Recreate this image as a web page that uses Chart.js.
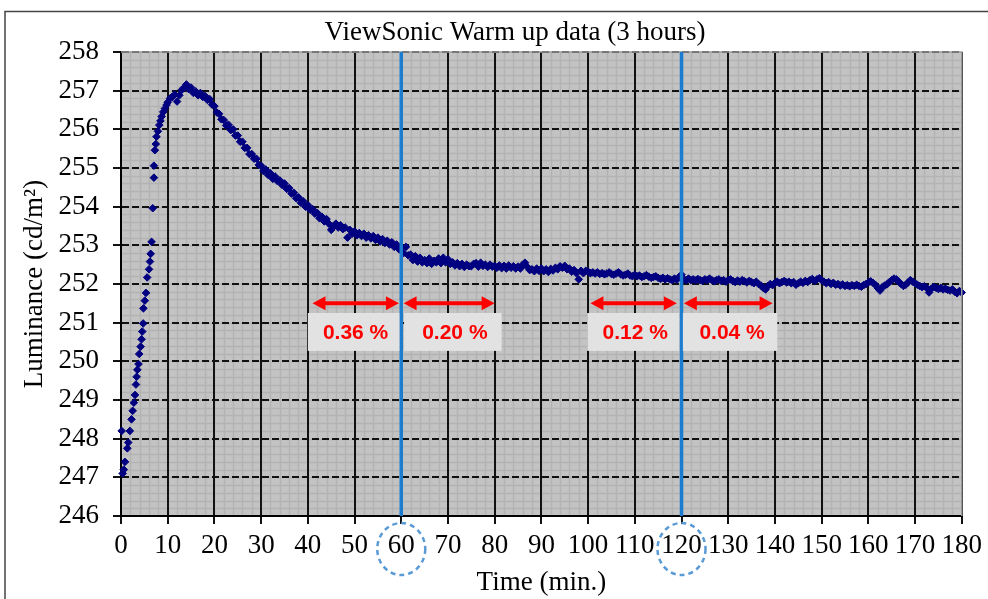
<!DOCTYPE html>
<html>
<head>
<meta charset="utf-8">
<title>ViewSonic Warm up data</title>
<script src="https://cdn.jsdelivr.net/npm/chart.js@4.4.1/dist/chart.umd.min.js"></script>
<style>
  html, body { margin: 0; padding: 0; background: #ffffff; }
  #wrap { width: 988px; height: 599px; position: relative; }
</style>
</head>
<body>
<div id="wrap"><canvas id="warmup"></canvas></div>
<script>
// --- data ---
const titleText = "ViewSonic Warm up data (3 hours)";
const xTitle = "Time (min.)";
const yTitle = "Luminance (cd/m²)";

// first minutes: the fast rise, sparse points
const riseTimes = [0.15, 0.36, 0.6, 0.85, 1.35, 1.55, 1.9, 2.25, 2.5, 2.75, 3.0, 3.2, 3.35, 3.5, 3.75, 3.9,
  4.2, 4.4, 4.55, 4.75, 4.8, 5.1, 5.35, 5.6, 6.0, 6.2, 6.35, 6.55, 6.8, 7.05, 7.05, 7.25, 7.45, 7.6, 7.9,
  8.2, 8.45, 8.7, 9.05, 9.4, 9.75];
const riseLum = [248.2, 247.1, 247.2, 247.4, 247.75, 247.9, 248.2, 248.5, 248.72, 248.93, 249.13, 249.4, 249.6, 249.78, 249.93, 250.19,
  250.38, 250.57, 250.77, 250.98, 251.37, 251.57, 251.77, 252.17, 252.38, 252.58, 252.78, 253.09, 253.96, 254.75, 255.06, 255.46, 255.62, 255.81, 255.95,
  256.11, 256.22, 256.33, 256.45, 256.54, 256.63];

// from 10 min on, one reading every half minute (each row = 5 min)
const steadyStart = 10;
const steadyStep = 0.5;
const steadyLum = [
  256.7, 256.8, 256.84, 256.9, 256.72, 256.88, 257.02, 257.08, 257.16, 257.04,    // 10
  257.08, 256.94, 256.98, 256.88, 256.94, 256.84, 256.86, 256.76, 256.78, 256.64, // 15
  256.6, 256.44, 256.4, 256.26, 256.24, 256.1, 256.12, 255.98, 256.0, 255.84,     // 20
  255.84, 255.68, 255.68, 255.52, 255.52, 255.36, 255.36, 255.24, 255.24, 255.08, // 25
  255.06, 254.92, 254.96, 254.82, 254.86, 254.72, 254.78, 254.66, 254.68, 254.56, // 30
  254.6, 254.46, 254.48, 254.34, 254.36, 254.22, 254.24, 254.1, 254.14, 254.0,    // 35
  254.04, 253.92, 253.94, 253.82, 253.84, 253.7, 253.74, 253.62, 253.68, 253.56,  // 40
  253.4, 253.5, 253.56, 253.46, 253.52, 253.42, 253.46, 253.2, 253.4, 253.3,      // 45
  253.36, 253.26, 253.32, 253.24, 253.3, 253.2, 253.26, 253.18, 253.24, 253.14,   // 50
  253.2, 253.1, 253.16, 253.06, 253.12, 253.02, 253.08, 252.96, 253.02, 252.9,    // 55
  252.95, 252.8, 252.96, 252.74, 252.76, 252.62, 252.72, 252.58, 252.68, 252.56,  // 60
  252.62, 252.54, 252.66, 252.52, 252.6, 252.56, 252.66, 252.54, 252.68, 252.56,  // 65
  252.64, 252.52, 252.56, 252.48, 252.54, 252.46, 252.52, 252.44, 252.5, 252.46,  // 70
  252.46, 252.52, 252.54, 252.45, 252.55, 252.47, 252.5, 252.44, 252.5, 252.45,   // 75
  252.47, 252.42, 252.48, 252.41, 252.47, 252.4, 252.48, 252.42, 252.46, 252.4,   // 80
  252.45, 252.4, 252.5, 252.55, 252.44, 252.36, 252.38, 252.33, 252.4, 252.34,    // 85
  252.4, 252.33, 252.38, 252.31, 252.39, 252.35, 252.42, 252.38, 252.46, 252.42,  // 90
  252.47, 252.38, 252.4, 252.32, 252.36, 252.28, 252.12, 252.34, 252.28, 252.34,  // 95
  252.32, 252.28, 252.3, 252.27, 252.3, 252.26, 252.28, 252.25, 252.27, 252.3,    // 100
  252.26, 252.24, 252.27, 252.3, 252.25, 252.22, 252.24, 252.27, 252.22, 252.2,   // 105
  252.24, 252.2, 252.22, 252.18, 252.2, 252.23, 252.19, 252.16, 252.18, 252.2,    // 110
  252.16, 252.13, 252.16, 252.12, 252.15, 252.12, 252.1, 252.14, 252.11, 252.18,  // 115
  252.24, 252.12, 252.1, 252.14, 252.1, 252.12, 252.09, 252.13, 252.1, 252.08,    // 120
  252.12, 252.1, 252.14, 252.1, 252.07, 252.1, 252.12, 252.08, 252.1, 252.06,     // 125
  252.1, 252.12, 252.08, 252.05, 252.09, 252.06, 252.1, 252.07, 252.04, 252.08,   // 130
  252.05, 252.02, 252.06, 252.0, 251.96, 251.9, 251.86, 251.95, 252.0, 251.97,    // 135
  252.03, 252.06, 252.02, 252.05, 252.08, 252.04, 252.06, 252.02, 252.05, 251.98, // 140
  252.02, 252.06, 252.03, 252.08, 252.05, 252.1, 252.13, 252.08, 252.12, 252.15,  // 145
  252.1, 252.06, 252.02, 252.05, 252.0, 252.03, 251.98, 252.0, 251.96, 251.99,    // 150
  251.95, 251.97, 251.94, 251.97, 251.95, 251.98, 251.95, 251.93, 251.97, 252.0,  // 155
  252.04, 252.07, 252.03, 251.98, 251.9, 251.83, 251.92, 251.96, 251.99, 252.05,  // 160
  252.1, 252.14, 252.12, 252.06, 252.0, 251.95, 251.98, 252.04, 252.1, 252.06,    // 165
  252.02, 251.98, 251.95, 251.92, 251.94, 251.9, 251.78, 251.88, 251.92, 251.9,   // 170
  251.87, 251.9, 251.86, 251.88, 251.85, 251.83, 251.86, 251.8, 251.76, 251.82,   // 175
  251.78                                                                          // 180
];

// annotations
const markerTimes = [60, 120];
const changeLabels = ["0.36 %", "0.20 %", "0.12 %", "0.04 %"];
const arrowSpans = [[41, 59.5], [60.5, 80], [100.5, 119], [120.5, 139.5]];
const boxSpans = [[40, 59.6], [60.6, 81.5], [99.8, 119.5], [120.3, 140.5]];
const arrowLevel = 251.5;
const boxTop = 251.25, boxBottom = 250.27;

const points = riseTimes.map((t, i) => ({ x: t, y: riseLum[i] }));
steadyLum.forEach((v, i) => points.push({ x: steadyStart + i * steadyStep, y: v }));

const serif = '"Liberation Serif", "Times New Roman", serif';

const decor = {
  id: 'decor',
  beforeDraw(chart) {
    const { ctx, chartArea: a, scales: { x, y } } = chart;
    ctx.save();
    // outer frame
    ctx.strokeStyle = '#444';
    ctx.lineWidth = 1.5;
    ctx.beginPath();
    ctx.moveTo(5, 599); ctx.lineTo(5, 11.5); ctx.lineTo(988, 11.5);
    ctx.stroke();
    // title
    ctx.fillStyle = '#000';
    ctx.font = '27px ' + serif;
    ctx.textAlign = 'center';
    ctx.textBaseline = 'middle';
    ctx.fillText(titleText, 515, 33);
    // plot background + minor grid
    ctx.fillStyle = '#c3c3c3';
    ctx.fillRect(a.left, a.top, a.width, a.height);
    ctx.strokeStyle = '#b3b3b3';
    ctx.lineWidth = 1.5;
    ctx.beginPath();
    for (let t = 2; t < 180; t += 2) {
      const px = Math.round(x.getPixelForValue(t)) + 0.5;
      ctx.moveTo(px, a.top); ctx.lineTo(px, a.bottom);
    }
    for (let k = 1; k < 60; k++) {
      const py = Math.round(y.getPixelForValue(246 + k * 0.2)) + 0.5;
      ctx.moveTo(a.left, py); ctx.lineTo(a.right, py);
    }
    ctx.stroke();
    ctx.restore();
  },
  afterDatasetsDraw(chart) {
    const { ctx, chartArea: a, scales: { x, y } } = chart;
    ctx.save();
    // top/right plot border
    ctx.strokeStyle = '#9a9a9a';
    ctx.lineWidth = 1.5;
    ctx.beginPath();
    ctx.moveTo(a.left, a.top); ctx.lineTo(a.right, a.top); ctx.lineTo(a.right, a.bottom);
    ctx.stroke();
    // blue marker lines and dashed circles around their tick labels
    markerTimes.forEach(t => {
      const px = x.getPixelForValue(t);
      ctx.strokeStyle = '#1c7cd0';
      ctx.lineWidth = 3.5;
      ctx.setLineDash([]);
      ctx.beginPath();
      ctx.moveTo(px, a.top); ctx.lineTo(px, a.bottom);
      ctx.stroke();
      ctx.strokeStyle = '#5b9bd5';
      ctx.lineWidth = 2.5;
      ctx.setLineDash([5, 4]);
      ctx.beginPath();
      ctx.ellipse(px, 549, 24, 26, 0, 0, Math.PI * 2);
      ctx.stroke();
    });
    ctx.setLineDash([]);
    // label boxes
    boxSpans.forEach((s, i) => {
      const x1 = x.getPixelForValue(s[0]), x2 = x.getPixelForValue(s[1]);
      const y1 = y.getPixelForValue(boxTop), y2 = y.getPixelForValue(boxBottom);
      ctx.fillStyle = '#e2e2e2';
      ctx.fillRect(x1, y1, x2 - x1, y2 - y1);
      ctx.fillStyle = '#ff0000';
      ctx.font = 'bold 21px "Liberation Sans", Arial, sans-serif';
      ctx.textAlign = 'center';
      ctx.textBaseline = 'middle';
      ctx.fillText(changeLabels[i], (x1 + x2) / 2 + 2, (y1 + y2) / 2 + 1);
    });
    // red double arrows
    const head = 13, half = 7;
    ctx.strokeStyle = '#ff0000';
    ctx.fillStyle = '#ff0000';
    ctx.lineWidth = 4;
    arrowSpans.forEach(s => {
      const x1 = x.getPixelForValue(s[0]), x2 = x.getPixelForValue(s[1]);
      const py = y.getPixelForValue(arrowLevel);
      ctx.beginPath();
      ctx.moveTo(x1 + head - 2, py); ctx.lineTo(x2 - head + 2, py);
      ctx.stroke();
      ctx.beginPath();
      ctx.moveTo(x1, py); ctx.lineTo(x1 + head, py - half); ctx.lineTo(x1 + head, py + half); ctx.closePath();
      ctx.moveTo(x2, py); ctx.lineTo(x2 - head, py - half); ctx.lineTo(x2 - head, py + half); ctx.closePath();
      ctx.fill();
    });
    ctx.restore();
  }
};

new Chart(document.getElementById('warmup'), {
  type: 'scatter',
  data: {
    datasets: [{
      label: 'Luminance',
      data: points,
      backgroundColor: '#000080',
      borderColor: '#000080',
      borderWidth: 1,
      pointStyle: 'rectRot',
      pointRadius: 3.8,
      clip: 6
    }]
  },
  options: {
    responsive: true,
    maintainAspectRatio: false,
    animation: false,
    layout: { padding: { top: 52, right: 25.5, left: 0, bottom: 0 } },
    plugins: {
      legend: { display: false },
      tooltip: { enabled: false }
    },
    scales: {
      x: {
        type: 'linear',
        min: 0,
        max: 180,
        afterFit: s => { s.height = 83; },
        ticks: { stepSize: 10, autoSkip: false, maxRotation: 0, minRotation: 0, padding: 6,
                 color: '#000', font: { family: serif, size: 27 } },
        grid: { color: '#111', lineWidth: 2, tickLength: 8, tickColor: '#111' },
        border: { color: '#000', width: 2 },
        title: { display: true, text: xTitle, color: '#000', font: { family: serif, size: 27 },
                 padding: { top: 0, bottom: 0 } }
      },
      y: {
        min: 246,
        max: 258,
        afterFit: s => { s.width = 121; },
        ticks: { stepSize: 1, padding: 14, color: '#000', font: { family: serif, size: 27 } },
        grid: { color: '#111', lineWidth: 2, tickLength: 8, tickColor: '#111', tickBorderDash: [] },
        border: { color: '#000', width: 2, dash: [7, 3] },
        title: { display: true, text: yTitle, color: '#000', font: { family: serif, size: 27 },
                 padding: { top: 19, bottom: 0 } }
      }
    }
  },
  plugins: [decor]
});
</script>
</body>
</html>
